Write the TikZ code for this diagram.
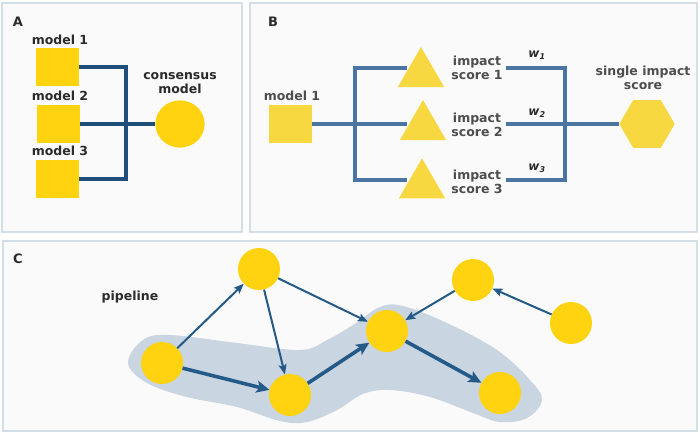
\documentclass[tikz,border=0pt]{standalone}
\usepackage{fontspec}
\setmainfont{DejaVu Sans}
\usetikzlibrary{shapes.geometric,arrows.meta}
\definecolor{panelbd}{HTML}{D4DEE8}
\definecolor{panelbg}{HTML}{FAFAFA}
\definecolor{goldA}{HTML}{FFD30F}
\definecolor{goldB}{HTML}{F7D840}
\definecolor{lineAc}{HTML}{1F4E7A}
\definecolor{lineBc}{HTML}{4A75A2}
\definecolor{lineCc}{HTML}{245A87}
\definecolor{blobc}{HTML}{C9D5E0}
\definecolor{txtA}{HTML}{2B2B2B}
\definecolor{txtB}{HTML}{4D4D4D}
\tikzset{
  panel/.style={draw=panelbd, fill=panelbg, line width=2pt},
  lbl/.style={font=\fontsize{12.5}{14.5}\selectfont\bfseries, text=txtA, align=center, inner sep=0pt},
  lblB/.style={lbl, text=txtB},
  plet/.style={font=\fontsize{13}{15}\selectfont\bfseries, text=txtA, inner sep=0pt},
  wlbl/.style={font=\fontsize{12}{14}\selectfont\bfseries\itshape, text=txtA, inner sep=0pt},
  sqA/.style={rectangle, fill=goldA, minimum width=43pt, minimum height=38pt, inner sep=0pt},
  sqB/.style={rectangle, fill=goldB, minimum width=43pt, minimum height=38pt, inner sep=0pt},
  circA/.style={ellipse, fill=goldA, minimum width=49pt, minimum height=47pt, inner sep=0pt},
  triB/.style={regular polygon, regular polygon sides=3, fill=goldB, minimum size=53.4pt, inner sep=0pt},
  hexB/.style={regular polygon, regular polygon sides=6, fill=goldB, minimum size=55pt, inner sep=0pt},
  dotC/.style={circle, fill=goldA, minimum size=42pt, inner sep=0pt},
  lineA/.style={draw=lineAc, line width=3.3pt},
  lineB/.style={draw=lineBc, line width=3.3pt},
  thinarr/.style={draw=lineCc, line width=2pt, -{Stealth[length=10pt,width=8pt,inset=2pt]}},
  thickarr/.style={draw=lineCc, line width=3.6pt, -{Stealth[length=13pt,width=12pt,inset=3pt]}},
}
\begin{document}
\begin{tikzpicture}[x=1pt,y=-1pt]
\useasboundingbox (0,0) rectangle (700,434);
% panels
\draw[panel] (2,3) rectangle (242,232);
\draw[panel] (250,3) rectangle (697,232);
\draw[panel] (3,241) rectangle (697,431);

% ---------- Panel A ----------
\node[plet] (labA) at (18,22) {A};
\node[sqA] (m1) at (57,67) {};
\node[sqA] (m2) at (58,124) {};
\node[sqA] (m3) at (57.5,179) {};
\node[lbl] (m1t) at (60,40) {model 1};
\node[lbl] (m2t) at (60,96) {model 2};
\node[lbl] (m3t) at (60,151) {model 3};
\coordinate (aTop) at (126,67);
\coordinate (aBot) at (126,179);
\node[circA] (cons) at (180,124) {};
\node[lbl] (const) at (180,83) {consensus\\model};
\draw[lineA] (m1.east) -- (aTop) -- (aBot) -- (m3.east);
\draw[lineA] (m2.east) -- (cons.west);
\node[circA] at (cons) {};

% ---------- Panel B ----------
\node[plet] (labB) at (273,22) {B};
\node[sqB] (mB) at (290,124) {};
\node[lblB] (mBt) at (292,96) {model 1};
\coordinate (bJ1) at (355,68);
\coordinate (bJ3) at (355,180);
\coordinate (bL1) at (407,68);
\coordinate (bL2) at (407,124);
\coordinate (bL3) at (407,180);
\draw[lineB] (bL1) -- (bJ1) -- (bJ3) -- (bL3);
\draw[lineB] (mB.east) -- (bL2);
\node[triB] (t1) at (421,73.7) {};
\node[triB] (t2) at (423,126.7) {};
\node[triB] (t3) at (422,185) {};
\node[lblB] (s1) at (477,68) {impact\\score 1};
\node[lblB] (s2) at (477,125) {impact\\score 2};
\node[lblB] (s3) at (477,182) {impact\\score 3};
\coordinate (rL1) at (506,68);
\coordinate (rL2) at (506,124);
\coordinate (rL3) at (506,180);
\coordinate (rJ1) at (565,68);
\coordinate (rJ3) at (565,180);
\node[hexB] (hx) at (647,124) {};
\draw[lineB] (rL1) -- (rJ1) -- (rJ3) -- (rL3);
\draw[lineB] (rL2) -- (hx.west);
\node[hexB] at (hx) {};
\node[lblB] (hxt) at (643,78) {single impact\\score};
\node[wlbl] (w1) at (537,55) {w\textsubscript{1}};
\node[wlbl] (w2) at (537,113) {w\textsubscript{2}};
\node[wlbl] (w3) at (537,168) {w\textsubscript{3}};

% ---------- Panel C ----------
\node[plet] (labC) at (18,259) {C};
\node[lbl] (pipe) at (130,297) {pipeline};
\fill[blobc] plot[smooth cycle, tension=0.6] coordinates {
 (128,363) (143,340) (170,335) (237,343) (300,350) (327,340) (353,325)
 (380,307) (403,306) (447,323) (497,350) (530,380) (542,400) (527,418)
 (500,422) (473,413) (430,397) (390,390) (363,394) (337,410) (307,422)
 (280,421) (237,407) (187,397) (147,383)};
\node[dotC] (c1) at (162,363) {};
\node[dotC] (c2) at (259,269) {};
\node[dotC] (c3) at (290,395) {};
\node[dotC] (c4) at (387,331) {};
\node[dotC] (c5) at (473,280) {};
\node[dotC] (c6) at (571,323) {};
\node[dotC] (c7) at (500,393) {};
\draw[thinarr] (c1) -- (c2);
\draw[thinarr] (c2) -- (c3);
\draw[thinarr] (c2) -- (c4);
\draw[thinarr] (c5) -- (c4);
\draw[thinarr] (c6) -- (c5);
\draw[thickarr] (c1) -- (c3);
\draw[thickarr] (c3) -- (c4);
\draw[thickarr] (c4) -- (c7);
\end{tikzpicture}
\end{document}
